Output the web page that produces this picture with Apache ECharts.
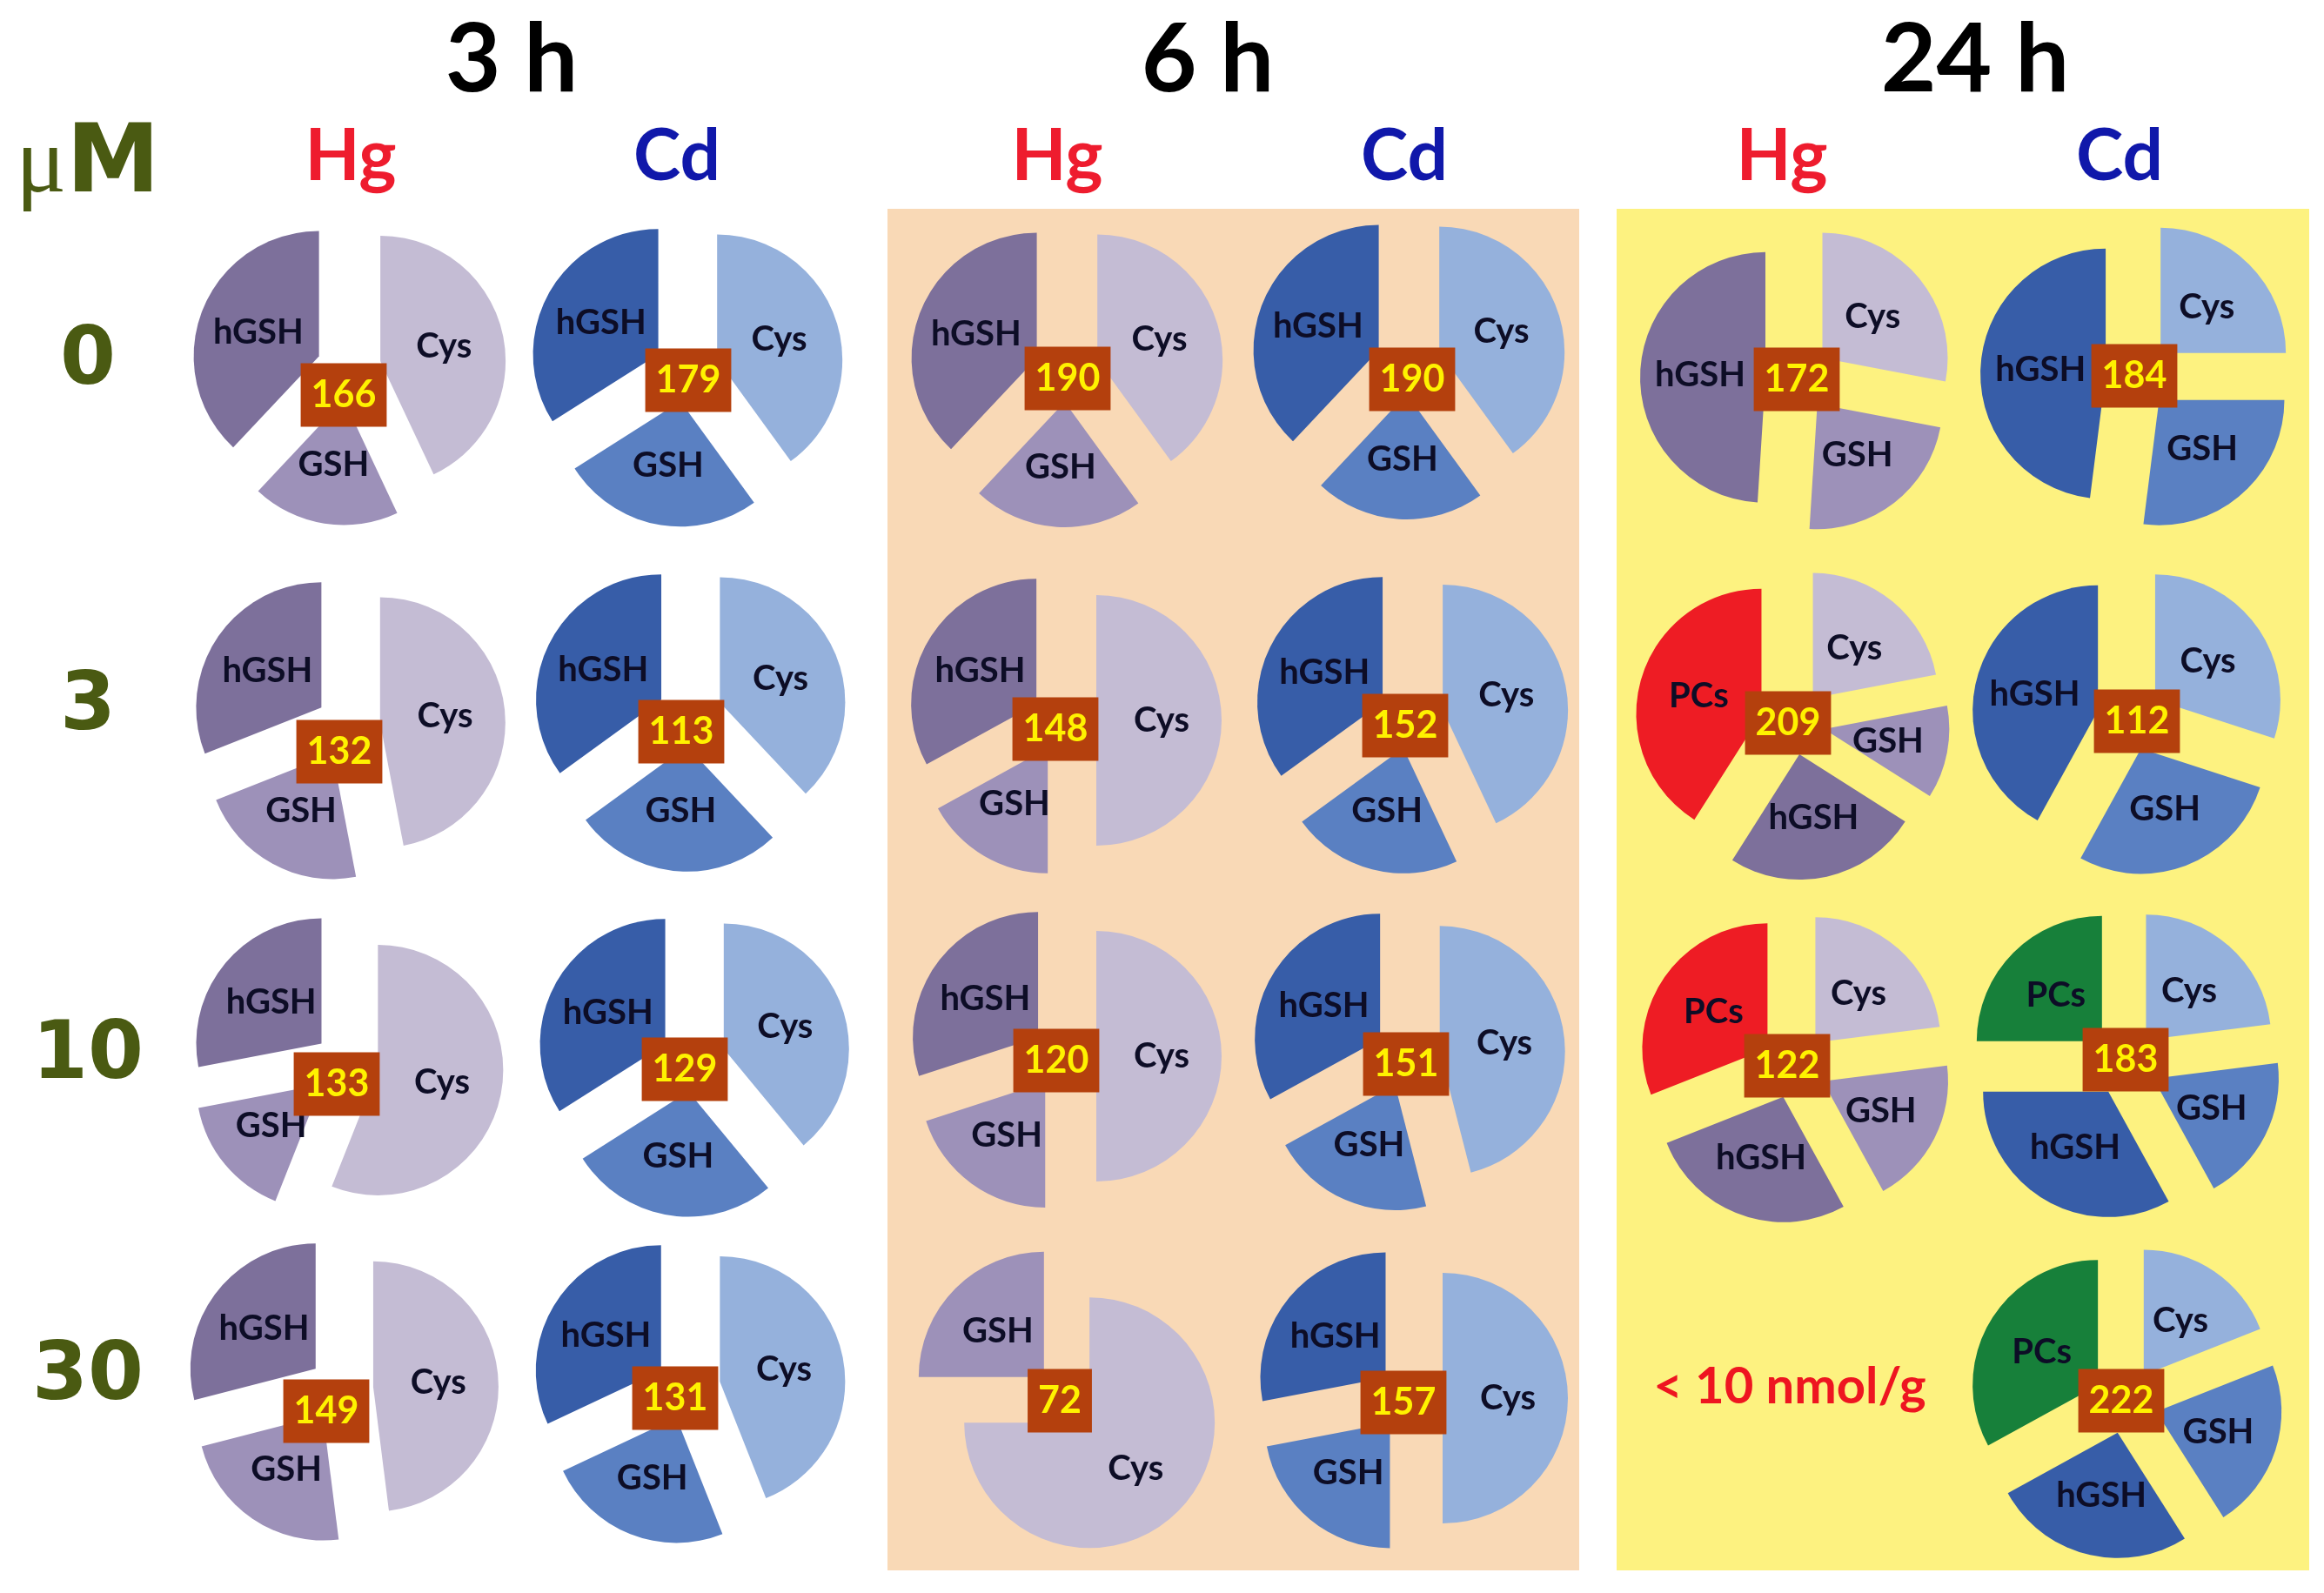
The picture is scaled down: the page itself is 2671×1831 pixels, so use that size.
<!DOCTYPE html>
<html>
<head>
<meta charset="utf-8">
<script src="https://cdn.jsdelivr.net/npm/echarts@6/dist/echarts.min.js"></script>
<style>
html,body{margin:0;padding:0;background:#fff;}
#chart{width:2671px;height:1831px;}
</style>
</head>
<body>
<div id="chart"></div>
<script>
// ---------------- DATA ----------------
const times = ['3 h', '6 h', '24 h'];
const metals = ['Hg', 'Cd'];
const doseLabels = ['0', '3', '10', '30'];
const doseUnit = 'μM';
const components = ['Cys', 'GSH', 'hGSH', 'PCs'];

// Columns: 3h-Hg, 3h-Cd, 6h-Hg, 6h-Cd, 24h-Hg, 24h-Cd ; rows: 0, 3, 10, 30 μM
const cysPct  = [[43,47,56,48],[40,38,39,44],[40,50,50,75],[40,43,46,50],[28,22,23,null],[25,30,23,19]];
const gshPct  = [[19,22,16,23],[26,27,27,24],[22,17,20,25],[22,22,21,22],[23,12,19,null],[27,28,19,22]];
const hgshPct = [[38,31,28,29],[34,35,34,32],[38,33,30,0],[38,35,33,28],[49,25,27,null],[48,42,33,26]];
const pcsPct  = [[0,0,0,0],[0,0,0,0],[0,0,0,0],[0,0,0,0],[0,41,31,null],[0,0,25,33]];
const totals  = [[166,132,133,149],[179,113,129,131],[190,148,120,72],[190,152,151,157],[172,209,122,null],[184,112,183,222]];
const belowLimitText = '< 10 nmol/g';

// ---------------- LAYOUT / STYLE ----------------
const pieCenters = [
  [[401,423],[400,834],[398,1223],[392,1596]],
  [[789,425],[793,821],[797,1218],[791,1595]],
  [[1226,425],[1223,828],[1223,1214],[1226,1609]],
  [[1619,416],[1622,824],[1618,1213],[1621,1607]],
  [[2066,435],[2060,831],[2062,1226],[2057,1594]],
  [[2457,432],[2447,826],[2442,1223],[2443,1611]]
];
const boxCenters = [
  [[395,454],[390,864],[387,1246],[375,1622]],
  [[791,437],[783,841],[787,1229],[776,1607]],
  [[1227,435],[1213,838],[1214,1219],[1218,1610]],
  [[1623,436],[1615,834],[1616,1223],[1613,1612]],
  [[2065,436],[2055,831],[2054,1225],[2057,1594]],
  [[2453,432],[2456,829],[2443,1218],[2438,1610]]
];
const titleX = [588, 1388, 2270];
const metalX = [403, 778, 1215, 1614, 2048, 2436];
const doseY = [417, 814, 1215, 1584];
const palette = {
  Hg: {Cys:'#C4BCD4', GSH:'#9D91B9', hGSH:'#7D709B', PCs:'#EE1C24'},
  Cd: {Cys:'#95B1DC', GSH:'#5A80C2', hGSH:'#375DA8', PCs:'#17803A'}
};
const metalColor = {Hg:'#EE1C2E', Cd:'#1018AA'};
const FONT = 'Lato, "Open Sans", sans-serif';

const compArrays = [cysPct, gshPct, hgshPct, pcsPct];

const series = [];
const graphics = [];

// background panels (6 h and 24 h)
graphics.push({type:'rect', z:-10, shape:{x:1020,y:240,width:795,height:1565}, style:{fill:'#F9D9B6'}});
graphics.push({type:'rect', z:-10, shape:{x:1858,y:240,width:796,height:1565}, style:{fill:'#FDF280'}});

for (let c = 0; c < 6; c++) {
  const metal = metals[c % 2];
  for (let r = 0; r < 4; r++) {
    if (totals[c][r] == null) continue;
    const data = [];
    components.forEach((name, k) => {
      const v = compArrays[k][c][r];
      if (v) {
        const col = palette[metal][name];
        data.push({
          name: name, value: v, selected: true,
          itemStyle: {color: col},
          select: {itemStyle: {color: col}}
        });
      }
    });
    series.push({
      type: 'pie',
      center: pieCenters[c][r],
      radius: 144,
      startAngle: 90,
      clockwise: true,
      selectedMode: 'multiple',
      selectedOffset: 37,
      avoidLabelOverlap: false,
      animation: false,
      silent: true,
      emphasis: {disabled: true},
      labelLayout: {hideOverlap: false},
      label: {
        show: true, position: 'inside', formatter: '{b}',
        color: '#0D0D26', fontFamily: FONT, fontWeight: 'bold', fontSize: 40,
        overflow: 'none'
      },
      labelLine: {show: false},
      data: data
    });
    graphics.push({
      type: 'text', z: 100,
      x: boxCenters[c][r][0], y: boxCenters[c][r][1],
      style: {
        text: String(totals[c][r]), fill: '#FFF200',
        fontFamily: FONT, fontWeight: 'bold', fontSize: 43,
        align: 'center', verticalAlign: 'middle',
        backgroundColor: '#B4400D', padding: [15, 12, 15, 12]
      }
    });
  }
}

// below detection text (24 h Hg 30 μM)
graphics.push({
  type:'text', z:100, x: boxCenters[4][3][0], y: boxCenters[4][3][1],
  style:{text: belowLimitText, fill:'#EE1520', fontFamily: FONT, fontWeight:'bold', fontSize:58,
         align:'center', verticalAlign:'middle'}
});

// time titles
times.forEach((t, i) => {
  graphics.push({type:'text', z:100, x:titleX[i], y:70,
    style:{text:t, fill:'#000', fontFamily:FONT, fontWeight:'bold', fontSize:110,
           align:'center', verticalAlign:'middle'}});
});
// metal labels
for (let c = 0; c < 6; c++) {
  const m = metals[c % 2];
  graphics.push({type:'text', z:100, x:metalX[c], y:181,
    style:{text:m, fill:metalColor[m], fontFamily:FONT, fontWeight:'bold', fontSize:82,
           align:'center', verticalAlign:'middle'}});
}
// unit label
graphics.push({type:'text', z:100, x:101, y:192,
  style:{text:'{a|μ}{b|M}', align:'center', verticalAlign:'middle',
    rich:{
      a:{fontFamily:'"Liberation Serif", "DejaVu Serif", serif', fontSize:108, fill:'#4A5A12', fontWeight:'normal'},
      b:{fontFamily:'"DejaVu Sans", sans-serif', fontSize:108, fill:'#4A5A12', fontWeight:'bold'}
    }}});
// dose labels
doseLabels.forEach((d, i) => {
  graphics.push({type:'text', z:100, x:101, y:doseY[i],
    style:{text:d, fill:'#4A5A12', fontFamily:'"DejaVu Sans", sans-serif', fontWeight:'bold', fontSize:92,
           align:'center', verticalAlign:'middle'}});
});

const chart = echarts.init(document.getElementById('chart'), null, {renderer:'canvas'});
chart.setOption({
  backgroundColor: '#ffffff',
  animation: false,
  series: series,
  graphic: {elements: graphics}
});
</script>
</body>
</html>
